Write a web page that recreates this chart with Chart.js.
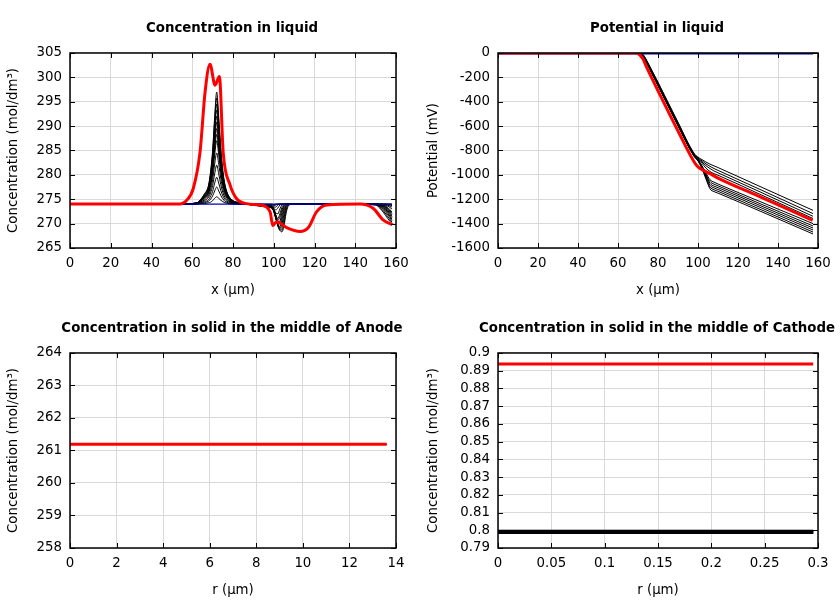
<!DOCTYPE html>
<html><head><meta charset="utf-8">
<script src="https://cdn.jsdelivr.net/npm/chart.js@4"></script>
<style>
html,body{margin:0;padding:0;background:#fff;}
#wrap{position:relative;width:840px;height:600px;overflow:hidden;background:#fff;}
canvas{position:absolute;}
</style></head><body>
<div id="wrap">
<canvas id="c1" width="464" height="300" style="left:0;top:2px;width:464px;height:300px"></canvas>
<canvas id="c2" width="474" height="300" style="left:420px;top:2px;width:474px;height:300px"></canvas>
<canvas id="c3" width="464" height="300" style="left:0;top:302px;width:464px;height:300px"></canvas>
<canvas id="c4" width="474" height="300" style="left:420px;top:302px;width:474px;height:300px"></canvas>
</div>
<script>
// ---------- Concentration in liquid (x in µm) ----------
const liquidX = [0, 50, 58, 62, 64, 66, 68, 69, 70, 71, 72, 73, 74, 75, 76, 77, 78, 80, 84, 90, 98, 99, 100, 101, 102, 103, 104, 105, 106, 107, 108, 112, 140, 150, 152, 154, 156, 158];
const liquidConcInitial = [274, 274];
const liquidConcInitialX = [0, 158];
const liquidConcSteps = [
  [274,274, 274.1,274.2,274.9,276.1,277.9,280.7,285.0,291.9,297.0,291.9,285.5,280.9,278.1,276.5,275.6,274.7,274.2, 273.8,273.3,273.2,272.5,271.0,269.5,268.6,268.3,269.5,272.0,273.5,273.9,274.0, 274.0,273.8,273.2,272.2,271.0,270.0],
  [274,274, 274.1,274.2,274.9,276.0,277.7,280.3,284.5,291.0,295.8,291.0,284.9,280.5,277.9,276.4,275.5,274.7,274.2, 273.8,273.4,273.2,272.5,271.1,269.6,268.7,268.7,270.2,272.6,273.7,274.0,274.0, 274.0,273.85,273.35,272.5,271.4,270.3],
  [274,274, 274.1,274.2,274.8,275.8,277.5,280.0,283.8,290.0,294.5,290.0,284.3,280.2,277.7,276.3,275.4,274.6,274.2, 273.8,273.4,273.2,272.6,271.2,269.8,268.9,269.2,271.0,273.2,273.8,274.0,274.0, 274.0,273.9,273.5,272.8,271.8,270.6],
  [274,274, 274.1,274.2,274.8,275.7,277.3,279.6,283.3,289.1,293.3,289.1,283.7,279.8,277.5,276.1,275.4,274.6,274.2, 273.8,273.4,273.25,272.65,271.3,269.9,269.1,269.9,271.8,273.5,273.9,274.0,274.0, 274.0,273.95,273.6,273.0,272.1,270.9],
  [274,274, 274.1,274.2,274.7,275.6,277.1,279.2,282.6,288.0,292.0,288.0,283.0,279.4,277.2,276.0,275.3,274.5,274.2, 273.8,273.4,273.3,272.7,271.4,270.0,269.4,270.6,272.6,273.7,274.0,274.0,274.0, 274.0,274.0,273.7,273.2,272.4,271.2],
  [274,274, 274.1,274.2,274.7,275.5,276.9,278.9,282.1,287.1,290.8,287.1,282.4,279.0,277.0,275.8,275.2,274.5,274.2, 273.85,273.45,273.35,272.75,271.5,270.2,270.0,271.4,273.1,273.8,274.0,274.0,274.0, 274.0,274.0,273.75,273.35,272.65,271.5],
  [274,274, 274.1,274.2,274.6,275.4,276.6,278.5,281.4,286.1,289.5,286.1,281.8,278.7,276.8,275.7,275.1,274.5,274.2, 273.9,273.5,273.4,272.8,271.6,270.4,270.5,272.2,273.5,273.9,274.0,274.0,274.0, 274.0,274.0,273.8,273.5,272.9,271.8],
  [274,274, 274.0,274.1,274.6,275.3,276.4,278.1,280.9,285.2,288.3,285.2,281.2,278.3,276.6,275.6,275.0,274.4,274.1, 273.9,273.5,273.45,272.85,271.7,270.7,271.3,272.8,273.7,274.0,274.0,274.0,274.0, 274.0,274.0,273.85,273.6,273.1,272.1],
  [274,274, 274.0,274.1,274.5,275.2,276.2,277.8,280.2,284.1,287.0,284.1,280.5,277.9,276.3,275.4,274.9,274.4,274.1, 273.9,273.5,273.5,272.9,271.8,271.0,272.0,273.3,273.9,274.0,274.0,274.0,274.0, 274.0,274.0,273.9,273.7,273.3,272.4],
  [274,274, 274.0,274.1,274.4,274.9,275.8,277.0,279.0,282.2,284.5,282.2,279.3,277.2,275.9,275.2,274.7,274.3,274.1, 273.9,273.6,273.6,273.0,272.2,272.0,273.0,273.8,274.0,274.0,274.0,274.0,274.0, 274.0,274.0,274.0,273.8,273.6,273.0],
  [274,274, 274.0,274.1,274.3,274.7,275.4,276.3,277.8,280.2,282.0,280.2,278.0,276.4,275.4,274.9,274.6,274.2,274.1, 273.9,273.7,273.7,273.2,272.8,273.2,273.8,274.0,274.0,274.0,274.0,274.0,274.0, 274.0,274.0,274.0,273.9,273.8,273.4],
  [274,274, 274.0,274.1,274.2,274.5,274.9,275.6,276.6,278.3,279.5,278.3,276.8,275.7,275.0,274.6,274.4,274.2,274.1, 274.0,273.8,273.8,273.4,273.4,273.8,274.0,274.0,274.0,274.0,274.0,274.0,274.0, 274.0,274.0,274.0,274.0,273.9,273.7],
  [274,274, 274.0,274.0,274.1,274.3,274.6,275.0,275.7,276.7,277.5,276.7,275.8,275.1,274.6,274.4,274.2,274.1,274.0, 274.0,273.9,273.9,273.7,273.8,274.0,274.0,274.0,274.0,274.0,274.0,274.0,274.0, 274.0,274.0,274.0,274.0,274.0,273.9],
  [274,274, 274.0,274.0,274.1,274.1,274.3,274.4,274.7,275.2,275.5,275.2,274.8,274.5,274.3,274.2,274.1,274.0,274.0, 274.0,274.0,274.0,273.9,274.0,274.0,274.0,274.0,274.0,274.0,274.0,274.0,274.0, 274.0,274.0,274.0,274.0,274.0,274.0]
];
const liquidConcFinalX = [0, 50, 53.2, 57.3, 60.5, 63.8, 66.3, 68.7, 71.2, 73.3, 75.2, 78.5, 81.8, 86.7, 93.3, 98.2, 99.5, 101.4, 106.3, 112.9, 117, 121, 126, 142.4, 148.9, 153.8, 158.2];
const liquidConcFinal = [274, 274, 274.0, 274.8, 277.2, 284.6, 297, 302.7, 298.4, 300.2, 284.5, 278, 275.1, 274.1, 273.8, 272.4, 269.6, 270.4, 269.2, 268.4, 269.2, 272.4, 273.8, 274, 273.1, 270.7, 269.8];

// ---------- Potential in liquid ----------
const potX = [0, 60, 70, 71, 72, 73, 74, 76, 80, 90, 98, 100, 102, 104, 106, 108, 110, 130, 157.5];
const potInitialX = [0, 157.5];
const potInitial = [0, 0];
const potSteps = [
  [0,0,0,0,-5,-22,-50,-112,-240,-568,-822, -855,-875,-895,-912,-926,-940,-1088,-1291],
  [0,0,0,-1,-7,-25,-54,-117,-245,-574,-827, -862,-885,-910,-930,-948,-963,-1112,-1318],
  [0,0,0,-1,-8,-27,-56,-120,-250,-578,-830, -868,-895,-925,-948,-968,-983,-1132,-1340],
  [0,0,0,-2,-10,-30,-60,-125,-255,-585,-835, -872,-905,-945,-972,-990,-1003,-1152,-1358],
  [0,0,0,-2,-11,-32,-62,-128,-258,-588,-838, -876,-925,-985,-1040,-1060,-1075,-1212,-1400],
  [0,0,0,-2,-12,-33,-64,-130,-260,-590,-840, -878,-930,-995,-1055,-1076,-1090,-1229,-1419],
  [0,0,0,-3,-13,-34,-65,-132,-262,-592,-842, -880,-935,-1005,-1070,-1092,-1105,-1244,-1436],
  [0,0,0,-3,-14,-35,-66,-134,-264,-594,-844, -882,-940,-1015,-1085,-1107,-1120,-1259,-1452],
  [0,0,-1,-4,-15,-37,-68,-136,-266,-596,-846, -884,-945,-1025,-1100,-1122,-1135,-1275,-1469],
  [0,0,-1,-4,-16,-38,-70,-138,-268,-598,-848, -886,-950,-1035,-1115,-1137,-1150,-1290,-1485]
];
const potFinalX = [0, 66, 69.3, 71, 72.5, 74, 76, 80, 90, 98.5, 100, 102.7, 106, 110, 130, 157.3];
const potFinal = [0, 0, 0, -18, -50, -105, -175, -310, -640, -905, -935, -963, -990, -1026, -1172, -1373];

// ---------- Solid concentration, middle of anode (r in µm) ----------
const anodeR = [0, 13.6];
const anodeInitial = [261.19, 261.19];
const anodeSteps = [261.19, 261.19];
const anodeFinal = [261.19, 261.19];

// ---------- Solid concentration, middle of cathode ----------
const cathodeR = [0, 0.2955];
const cathodeInitial = [0.7999, 0.7999];
const cathodeStepLevels = [0.8000, 0.7998, 0.7996, 0.7994, 0.7992, 0.7990, 0.7988, 0.7986, 0.7984, 0.7982];
const cathodeFinal = [0.8938, 0.8938];

// ---------- helpers ----------
const FONT = {family: "'DejaVu Sans', sans-serif", size: 13.33};
const fmt = v => String(Math.round(v * 10000) / 10000);
const pts = (xs, ys) => xs.map((x, i) => ({x: x, y: ys[i]}));
const RED = '#ff0000', BLUE = '#0000b4', BLACK = '#000000';

function ds(data, color, width, order) {
  return {data: data, borderColor: color, backgroundColor: color, borderWidth: width, order: order,
          pointRadius: 0, fill: false, cubicInterpolationMode: 'monotone', yAxisID: 'y', xAxisID: 'x'};
}

const framePlugin = {
  id: 'frame',
  afterDatasetsDraw(chart) {
    const {ctx, chartArea: a} = chart;
    const x = chart.scales.x, y = chart.scales.y;
    const L = 5;
    ctx.save();
    ctx.strokeStyle = '#000';
    ctx.lineWidth = 1;
    ctx.beginPath();
    x.ticks.forEach(t => {
      const p = Math.round(x.getPixelForValue(t.value)) + 0.5;
      ctx.moveTo(p, a.bottom); ctx.lineTo(p, a.bottom - L);
      ctx.moveTo(p, a.top); ctx.lineTo(p, a.top + L);
    });
    y.ticks.forEach(t => {
      const p = Math.round(y.getPixelForValue(t.value)) + 0.5;
      ctx.moveTo(a.left, p); ctx.lineTo(a.left + L, p);
      ctx.moveTo(a.right, p); ctx.lineTo(a.right - L, p);
    });
    ctx.stroke();
    ctx.lineWidth = 1.5;
    ctx.strokeRect(a.left, a.top, a.right - a.left, a.bottom - a.top);
    ctx.restore();
  }
};

function makeChart(id, c) {
  const grid = {color: '#d9d9d9', lineWidth: 1, drawTicks: false};
  return new Chart(document.getElementById(id), {
    type: 'line',
    data: {datasets: c.datasets},
    options: {
      responsive: false, animation: false, devicePixelRatio: 1,
      layout: {padding: 0},
      plugins: {
        legend: {display: false}, tooltip: {enabled: false},
        title: {display: true, text: c.title, color: '#000', font: Object.assign({}, FONT, {weight: 'bold'}), padding: {top: 19, bottom: 16}}
      },
      scales: {
        x: {type: 'linear', min: c.xMin, max: c.xMax,
            ticks: {stepSize: c.xStep, callback: fmt, color: '#000', font: FONT, padding: 8, maxRotation: 0, autoSkip: false},
            grid: grid, border: {display: false},
            title: {display: true, text: c.xLabel, color: '#000', font: FONT, padding: {top: 0, bottom: 3}},
            afterFit: s => { s.height = 54; }},
        y: {type: 'linear', position: 'left', min: c.yMin, max: c.yMax,
            ticks: {stepSize: c.yStep, callback: fmt, color: '#000', font: FONT, padding: 8, autoSkip: false},
            grid: grid, border: {display: false},
            title: {display: true, text: c.yLabel, color: '#000', font: FONT, padding: {top: 6, bottom: 0}},
            afterFit: s => { s.width = c.yWidth; }},
        spacer: {type: 'linear', position: 'right', display: true,
            ticks: {display: false}, grid: {display: false, drawTicks: false}, border: {display: false},
            title: {display: false},
            afterFit: s => { s.width = c.padRight; }}
      }
    },
    plugins: [framePlugin]
  });
}

// Chart 1
const c1ds = [ds(pts(liquidConcFinalX, liquidConcFinal), RED, 3, 0),
              ds(pts(liquidConcInitialX, liquidConcInitial), BLUE, 1.2, 1)];
liquidConcSteps.forEach(s => c1ds.push(ds(pts(liquidX, s), BLACK, 1, 2)));
makeChart('c1', {datasets: c1ds, title: 'Concentration in liquid', xLabel: 'x (µm)', yLabel: 'Concentration (mol/dm³)',
  xMin: 0, xMax: 160, xStep: 20, yMin: 265, yMax: 305, yStep: 5, yWidth: 70, padRight: 68});

// Chart 2
const c2blue = ds(pts(potInitialX, potInitial), BLUE, 3, 1);
const c2ds = [ds(pts(potFinalX, potFinal), RED, 3, 0), c2blue];
potSteps.forEach(s => c2ds.push(ds(pts(potX, s), BLACK, 1, 2)));
makeChart('c2', {datasets: c2ds, title: 'Potential in liquid', xLabel: 'x (µm)', yLabel: 'Potential (mV)',
  xMin: 0, xMax: 160, xStep: 20, yMin: -1600, yMax: 0, yStep: 200, yWidth: 78, padRight: 76});

// Chart 3
const c3ds = [ds(pts(anodeR, anodeFinal), RED, 3, 0),
              ds(pts(anodeR, anodeInitial), BLUE, 1, 1),
              ds(pts(anodeR, anodeSteps), BLACK, 1, 2)];
makeChart('c3', {datasets: c3ds, title: 'Concentration in solid in the middle of Anode', xLabel: 'r (µm)', yLabel: 'Concentration (mol/dm³)',
  xMin: 0, xMax: 14, xStep: 2, yMin: 258, yMax: 264, yStep: 1, yWidth: 70, padRight: 68});

// Chart 4
const c4ds = [ds(pts(cathodeR, cathodeFinal), RED, 3, 0),
              ds(pts(cathodeR, cathodeInitial), BLUE, 1, 2)];
cathodeStepLevels.forEach(v => c4ds.push(ds(pts(cathodeR, [v, v]), BLACK, 1.2, 1)));
makeChart('c4', {datasets: c4ds, title: 'Concentration in solid in the middle of Cathode', xLabel: 'r (µm)', yLabel: 'Concentration (mol/dm³)',
  xMin: 0, xMax: 0.3, xStep: 0.05, yMin: 0.79, yMax: 0.9, yStep: 0.01, yWidth: 78, padRight: 76});
</script>
</body></html>
